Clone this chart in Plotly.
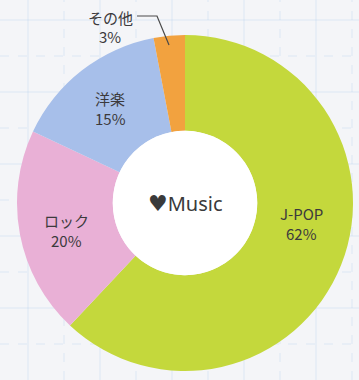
import plotly.graph_objects as go

# Music genre share (percent)
genres = ["J-POP", "ロック", "洋楽", "その他"]
shares = [62, 20, 15, 3]
colors = ["#c4d83c", "#e9b0d6", "#a7bfea", "#f2a23f"]

W, H = 359, 380
CX, CY, R = 185, 203, 168  # pie centre / radius in pixels
HOLE = 0.43

fig = go.Figure()
fig.add_trace(go.Pie(
    labels=genres,
    values=shares,
    sort=False,
    direction="clockwise",
    rotation=0,
    hole=HOLE,
    marker=dict(colors=colors, line=dict(width=0)),
    textinfo="none",
    hoverinfo="label+percent",
    showlegend=False,
    domain=dict(x=[(CX - R) / W, (CX + R) / W],
                y=[(H - CY - R) / H, (H - CY + R) / H]),
))

# Grid-paper background: alternating solid / dashed faint blue lines
shapes = []
grid_color = "rgba(160,195,235,0.28)"
step = 36
for i, x in enumerate(range(28, W, step)):
    shapes.append(dict(type="line", xref="paper", yref="paper",
                       x0=x / W, x1=x / W, y0=0, y1=1, layer="below",
                       line=dict(color=grid_color, width=1,
                                 dash="solid" if i % 2 == 0 else "dash")))
for i, y in enumerate(range(20, H, step)):
    shapes.append(dict(type="line", xref="paper", yref="paper",
                       x0=0, x1=1, y0=1 - y / H, y1=1 - y / H, layer="below",
                       line=dict(color=grid_color, width=1,
                                 dash="solid" if i % 2 == 0 else "dash")))

# White centre of the donut
r_in = R * HOLE
shapes.append(dict(type="circle", xref="paper", yref="paper",
                   x0=(CX - r_in) / W, x1=(CX + r_in) / W,
                   y0=1 - (CY + r_in) / H, y1=1 - (CY - r_in) / H,
                   fillcolor="#ffffff", line=dict(width=0), layer="above"))

# Leader line for the small slice label
leader = [(137, 16), (157, 16), (169, 45)]
path = "M " + " L ".join(f"{px / W:.4f},{1 - py / H:.4f}" for px, py in leader)
shapes.append(dict(type="path", xref="paper", yref="paper", path=path,
                   line=dict(color="#4a4a4a", width=1.2)))

# Slice labels: name on the first line, percentage on the second
label_pos = {"J-POP": (301, 223), "ロック": (66, 230), "洋楽": (110, 108), "その他": (110, 27)}
font = dict(family="Noto Sans CJK JP, Noto Sans, sans-serif", size=15, color="#3c3a3c")
annotations = []
for g, v in zip(genres, shares):
    px, py = label_pos[g]
    for txt, dy in ((g, -10), (f"{v}%", 10)):
        annotations.append(dict(text=txt, x=px / W, y=1 - (py + dy) / H,
                                xref="paper", yref="paper", showarrow=False,
                                xanchor="center", yanchor="middle",
                                borderpad=0, font=font))

annotations.append(dict(
    text="<span style='font-family:DejaVu Sans;font-size:22px'>♥</span>Music",
    x=CX / W, y=1 - CY / H,
    xref="paper", yref="paper", showarrow=False,
    xanchor="center", yanchor="middle",
    font=dict(family="Noto Sans, sans-serif", size=20, color="#3a3a3a")))

fig.update_layout(
    width=W, height=H,
    margin=dict(l=0, r=0, t=0, b=0),
    paper_bgcolor="#f4f5f8",
    plot_bgcolor="#f4f5f8",
    shapes=shapes,
    annotations=annotations,
)

fig.write_html("out.html", config={"displayModeBar": False})
